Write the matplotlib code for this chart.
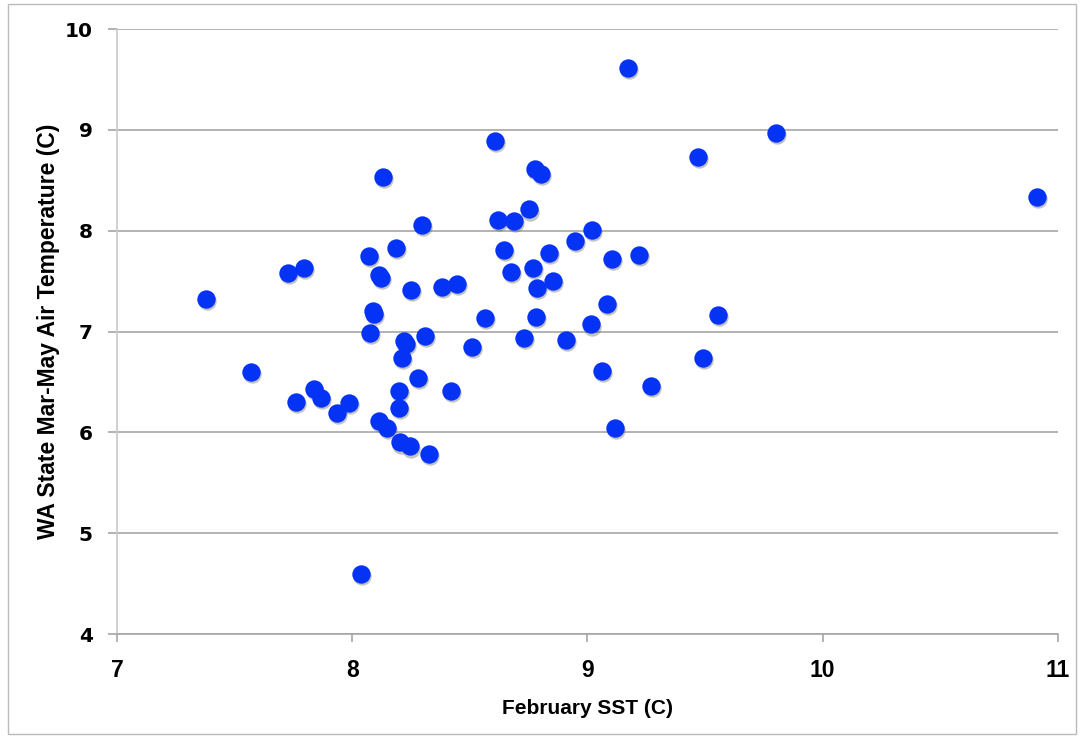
import matplotlib
matplotlib.use("Agg")
import matplotlib.pyplot as plt
import matplotlib.transforms as mtransforms
from matplotlib.patches import Rectangle

# February SST (C) vs WA State Mar-May air temperature (C)
sst = [7.378, 7.570, 7.727, 7.795, 7.761, 7.838, 7.867, 7.935, 7.986, 8.037,
       8.071, 8.075, 8.088, 8.092, 8.114, 8.121, 8.131, 8.114, 8.148, 8.186,
       8.199, 8.199, 8.203, 8.245, 8.211, 8.220, 8.228, 8.250, 8.280, 8.297,
       8.309, 8.326, 8.381, 8.445, 8.420, 8.509, 8.564, 8.607, 8.620, 8.645,
       8.688, 8.675, 8.751, 8.768, 8.777, 8.802, 8.785, 8.781, 8.730, 8.836,
       8.853, 8.909, 8.947, 9.019, 9.015, 9.062, 9.083, 9.104, 9.117, 9.172,
       9.219, 9.270, 9.470, 9.491, 9.555, 9.801, 10.911]
air = [7.32, 6.60, 7.58, 7.63, 6.30, 6.43, 6.34, 6.19, 6.29, 4.60,
       7.75, 6.99, 7.20, 7.17, 7.56, 7.53, 8.53, 6.11, 6.04, 7.83,
       6.41, 6.24, 5.90, 5.86, 6.74, 6.91, 6.88, 7.41, 6.54, 8.06,
       6.96, 5.79, 7.44, 7.47, 6.41, 6.85, 7.13, 8.89, 8.11, 7.81,
       8.10, 7.59, 8.21, 7.63, 8.61, 8.56, 7.43, 7.14, 6.94, 7.78,
       7.50, 6.92, 7.90, 8.01, 7.07, 6.61, 7.27, 7.72, 6.04, 9.61,
       7.76, 6.46, 8.73, 6.74, 7.16, 8.97, 8.33]
xticks = [7, 8, 9, 10, 11]
yticks = [4, 5, 6, 7, 8, 9, 10]

plt.rcParams['font.family'] = ['DejaVu Sans']
narrow = ['Liberation Sans', 'DejaVu Sans']

fig = plt.figure(figsize=(10.81, 7.38), dpi=100)
ax = fig.add_axes([0.1082, 0.1409, 0.9787 - 0.1082, 0.9607 - 0.1409])

# soft shadow under the dots
shadow = mtransforms.offset_copy(ax.transData, fig=fig, x=1.0, y=-1.5, units='points')
ax.scatter(sst, air, s=175, color='#555555', alpha=0.35, linewidths=0,
           transform=shadow, zorder=2)
ax.scatter(sst, air, s=175, color='#0533F5', linewidths=0, zorder=3)

ax.set_xlim(7, 11)
ax.set_ylim(4, 10)
ax.set_xticks(xticks, [str(t) for t in xticks], fontsize=16.5, fontweight='bold',
              family=narrow)
ax.set_yticks(yticks, [str(t) for t in yticks], fontsize=14.5, fontweight='bold',
              family=['DejaVu Sans'])
ax.grid(axis='y', color='#a6a6a6', linewidth=1.2, zorder=0)
ax.set_axisbelow(True)

for s in ['top', 'right']:
    ax.spines[s].set_visible(False)
ax.spines['left'].set_color('#c8c8c8')
ax.spines['left'].set_linewidth(1.2)
ax.spines['bottom'].set_color('#a6a6a6')
ax.spines['bottom'].set_linewidth(1.2)
ax.tick_params(axis='y', length=6.5, width=1.2, color='#a6a6a6', pad=11)
ax.tick_params(axis='x', length=6, width=1.2, color='#a6a6a6', pad=12)

ax.set_xlabel('February SST (C)', fontsize=15, fontweight='bold',
              family=narrow, labelpad=12)
ax.set_ylabel('WA State Mar-May Air Temperature (C)', fontsize=16.5, fontweight='bold',
              family=narrow, labelpad=3)

# thin frame round the whole picture
fig.patches.append(Rectangle((0.007, 0.005), 0.988, 0.99, transform=fig.transFigure,
                             fill=False, edgecolor='#bbbbbb', linewidth=1.0))

fig.savefig('out.png', dpi=100)
